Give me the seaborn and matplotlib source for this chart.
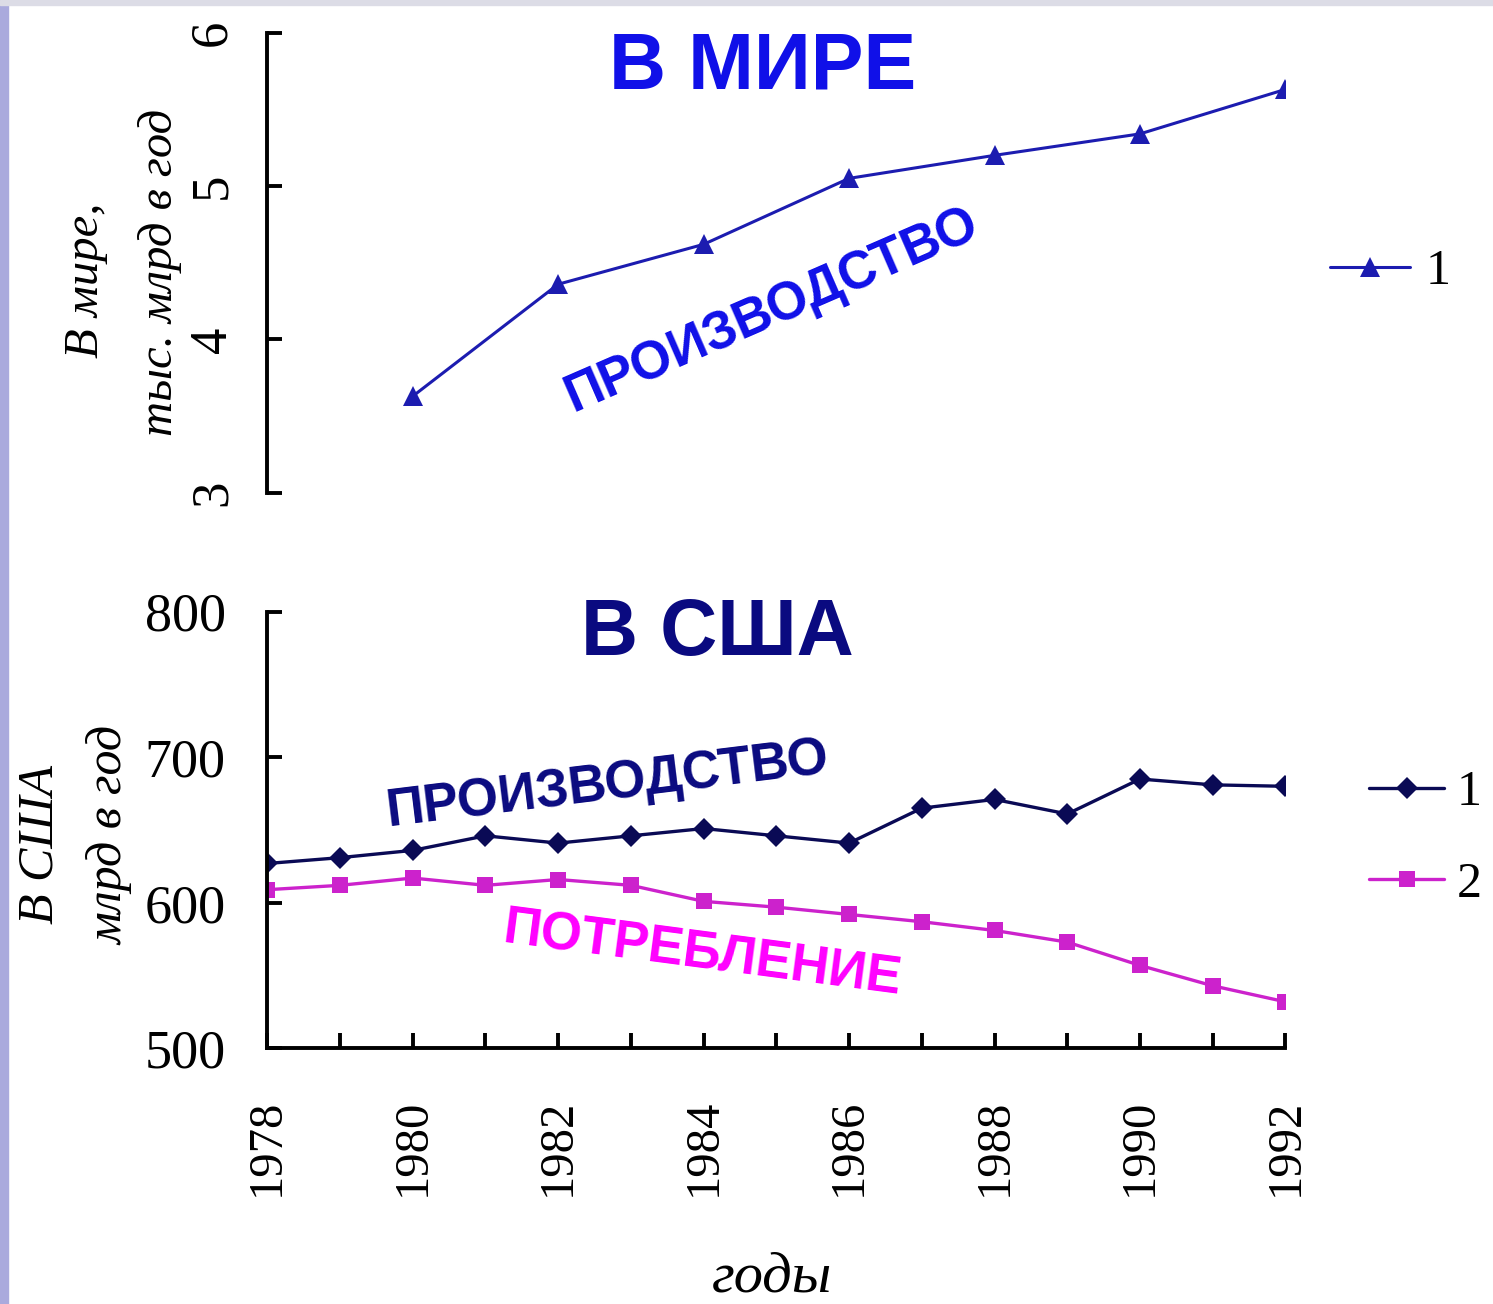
import numpy as np
import pandas as pd
import seaborn as sns
import matplotlib.pyplot as plt
from matplotlib.patches import Rectangle

# World production (top panel)
world_years = [1980, 1982, 1984, 1986, 1988, 1990, 1992]
world_prod = [3.63, 4.36, 4.62, 5.05, 5.20, 5.34, 5.63]

# USA production / consumption (bottom panel)
usa_years = list(range(1978, 1993))
usa_prod = [627, 631, 636, 646, 641, 646, 651, 646, 641, 665, 671, 661, 685, 681, 680]
usa_cons = [609, 612, 617, 612, 616, 612, 601, 597, 592, 587, 581, 573, 557, 543, 532]

year_ticks = [1978, 1980, 1982, 1984, 1986, 1988, 1990, 1992]

sns.set_style("ticks")
plt.rcParams['font.family'] = ['Liberation Serif', 'DejaVu Serif']
plt.rcParams['text.color'] = 'black'
plt.rcParams['axes.edgecolor'] = 'black'
plt.rcParams['xtick.color'] = 'black'
plt.rcParams['ytick.color'] = 'black'

W, H = 1493, 1304
fig = plt.figure(figsize=(W / 100, H / 100), dpi=100)
fig.patch.set_facecolor('white')
# slide frame strips
fig.patches.append(Rectangle((0, 0), 0.0055, 1, transform=fig.transFigure,
                             color='#aaaadd', zorder=0))
fig.patches.append(Rectangle((0, 0.996), 1, 0.004, transform=fig.transFigure,
                             color='#dcdce6', zorder=0))

ax1 = fig.add_axes([0.179, 0.622, 0.682, 0.353])
ax2 = fig.add_axes([0.179, 0.196, 0.682, 0.335])

df_world = pd.DataFrame({'год': world_years, 'значение': world_prod})
df_usa = pd.DataFrame({'год': usa_years, 'производство': usa_prod, 'потребление': usa_cons})

sns.lineplot(data=df_world, x='год', y='значение', ax=ax1, color='#1c1cb0',
             marker='^', markersize=15, linewidth=2.2, markeredgewidth=0, label='1')
sns.lineplot(data=df_usa, x='год', y='производство', ax=ax2, color='#0a0a55',
             marker='D', markersize=11, linewidth=2.4, markeredgewidth=0, label='1')
sns.lineplot(data=df_usa, x='год', y='потребление', ax=ax2, color='#cc22cc',
             marker='s', markersize=12, linewidth=2.4, markeredgewidth=0, label='2')

# top panel styling
ax1.set_xlim(1978, 1992)
ax1.set_ylim(3, 6)
ax1.set_yticks([3, 4, 5, 6])
ax1.set_xticks([])
for s in ['top', 'right', 'bottom']:
    ax1.spines[s].set_visible(False)
ax1.spines['left'].set_linewidth(2.8)
ax1.tick_params(axis='y', direction='in', length=11, width=2.8, labelsize=38,
                pad=22, labelrotation=90)
for lab in ax1.get_yticklabels():
    lab.set_va('center')
ax1.set_xlabel('')
ax1.set_ylabel('')
ax1.legend(loc='center left', bbox_to_anchor=(1.0, 0.48), frameon=False,
           fontsize=36, handlelength=1.6, handletextpad=0.3)

# bottom panel styling
ax2.set_xlim(1978, 1992)
ax2.set_ylim(500, 800)
ax2.set_yticks([500, 600, 700, 800])
ax2.set_xticks(year_ticks)
ax2.set_xticks(usa_years, minor=True)
for s in ['top', 'right']:
    ax2.spines[s].set_visible(False)
ax2.spines['left'].set_linewidth(2.8)
ax2.spines['bottom'].set_linewidth(2.8)
ax2.tick_params(axis='y', direction='in', length=11, width=2.8, labelsize=39, pad=30)
ax2.tick_params(axis='x', which='both', direction='in', length=11, width=2.8)
ax2.tick_params(axis='x', which='major', labelsize=35, pad=36, labelrotation=90)
ax2.set_xlabel('')
ax2.set_ylabel('')
ax2.legend(loc='center left', bbox_to_anchor=(1.038, 0.48), frameon=False,
           fontsize=36, handlelength=1.5, handletextpad=0.25, labelspacing=0.9)

# axis titles (italic, rotated)
def ftext(x, y, s, **kw):
    fig.text(x / W, 1 - y / H, s, ha='center', va='center', **kw)

ftext(86, 280, 'В мире,', fontsize=35, style='italic', rotation=90)
ftext(160, 272, 'тыс. млрд в год', fontsize=35, style='italic', rotation=90)
ftext(40, 845, 'В США', fontsize=36, style='italic', rotation=90)
ftext(110, 835, 'млрд в год', fontsize=36, style='italic', rotation=90)
ftext(772, 1278, 'годы', fontsize=42, style='italic')

# annotations
sans = ['Liberation Sans']
ftext(763, 68, 'В МИРЕ', color='#1010e8', fontsize=57, fontweight='bold', family=sans)
ftext(717, 635, 'В США', color='#0a0a80', fontsize=57, fontweight='bold', family=sans)
ftext(772, 310, 'ПРОИЗВОДСТВО', color='#1010e8', fontsize=38, fontweight='bold',
      family=sans, rotation=23.5, rotation_mode='anchor')
ftext(607, 785, 'ПРОИЗВОДСТВО', color='#0a0a80', fontsize=38, fontweight='bold',
      family=sans, rotation=7, rotation_mode='anchor')
ftext(702, 955, 'ПОТРЕБЛЕНИЕ', color='#ff00ff', fontsize=38, fontweight='bold',
      family=sans, rotation=-7.5, rotation_mode='anchor')

fig.savefig('out.png', dpi=100, facecolor='white')
